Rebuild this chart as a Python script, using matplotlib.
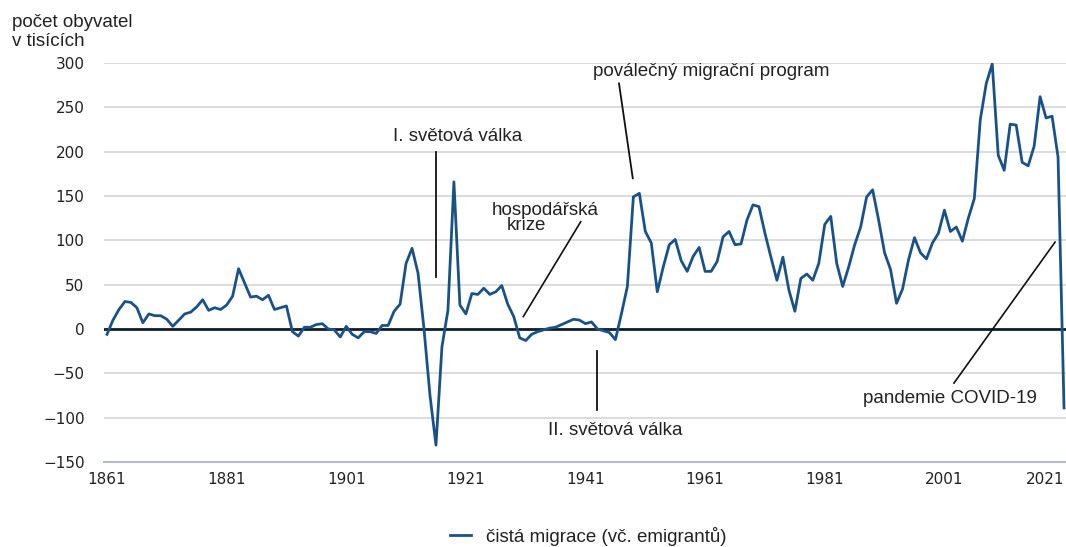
import numpy as np
import matplotlib
matplotlib.use('Agg')
import matplotlib.pyplot as plt

# net migration in thousands, one value per year from 1861
first_year = 1861
net_migration = [
    -6, 10, 22, 31, 30, 24, 7, 17, 15, 15,
    11, 3, 10, 17, 19, 25, 33, 21, 24, 22,
    27, 37, 68, 52, 36, 37, 33, 38, 22, 24,
    26, -3, -8, 2, 2, 5, 6, 0, -1, -9,
    3, -6, -10, -3, -3, -5, 4, 4, 20, 28,
    74, 91, 63, 0, -75, -131, -20, 21, 166, 27,
    17, 40, 39, 46, 39, 42, 49, 28, 14, -10,
    -13, -6, -3, -1, 1, 2, 5, 8, 11, 10,
    6, 8, 0, -2, -4, -12, 17, 48, 149, 153,
    110, 97, 42, 70, 95, 101, 77, 65, 82, 92,
    65, 65, 76, 104, 110, 95, 96, 123, 140, 138,
    108, 81, 55, 81, 44, 20, 57, 62, 55, 74,
    118, 127, 74, 48, 70, 95, 115, 149, 157, 123,
    86, 67, 29, 45, 78, 103, 86, 79, 97, 108,
    134, 110, 115, 99, 125, 147, 236, 277, 299, 196,
    179, 231, 230, 188, 184, 206, 262, 238, 240, 194,
    -89,
]
years = np.arange(first_year, first_year + len(net_migration))

x_ticks = [1861, 1881, 1901, 1921, 1941, 1961, 1981, 2001, 2021]
y_ticks = [-150, -100, -50, 0, 50, 100, 150, 200, 250, 300]

series_label = 'čistá migrace (vč. emigrantů)'
y_title = 'počet obyvatel\nv tisících'

line_color = '#1a5288'
text_font = ['Liberation Sans', 'DejaVu Sans']
fs = 13.5

fig = plt.figure(figsize=(10.66, 5.47), dpi=100)
ax = fig.add_axes([104 / 1066, 85 / 547, 962 / 1066, 399 / 547])

ax.plot(years, net_migration, color=line_color, lw=2, zorder=3,
        label=series_label)
ax.axhline(0, color='#0f1e2e', lw=2, zorder=2)

ax.set_xlim(1860.5, 2021.33)
ax.set_ylim(-150, 300)
ax.set_xticks(x_ticks)
ax.set_yticks(y_ticks)
ax.grid(axis='y', color='#d6d6d6', lw=1.2, zorder=0)
ax.set_axisbelow(True)
for side in ['top', 'right', 'left']:
    ax.spines[side].set_visible(False)
ax.spines['bottom'].set_color('#b3bccb')
ax.spines['bottom'].set_linewidth(1.5)
ax.tick_params(axis='both', length=0, labelsize=11, colors='#222222')
ax.tick_params(axis='x', pad=7)
ax.tick_params(axis='y', pad=14)
ax.get_xticklabels()[-1].set_ha('right')

fig.text(12 / 1066, 1 - 32 / 547, y_title, fontsize=fs, family=text_font,
         ha='left', va='center', linespacing=1.15, color='#222222')

# event annotations
ax.text(1919.6, 217, 'I. světová válka', fontsize=fs, family=text_font,
        ha='center', va='center', color='#222222')
ax.plot([1916, 1916], [200, 59], color='#111111', lw=1.3, clip_on=False)

ax.text(1925.3, 134, 'hospodářská', fontsize=fs, family=text_font,
        ha='left', va='center', color='#222222')
ax.text(1927.8, 117, 'krize', fontsize=fs, family=text_font,
        ha='left', va='center', color='#222222')
ax.plot([1940.2, 1930.6], [121, 14], color='#111111', lw=1.2)

ax.text(1946, -114, 'II. světová válka', fontsize=fs, family=text_font,
        ha='center', va='center', color='#222222')
ax.plot([1942.9, 1942.9], [-25, -91], color='#111111', lw=1.3)

ax.text(1962.1, 290, 'poválečný migrační program', fontsize=fs,
        family=text_font, ha='center', va='center', color='#222222')
ax.plot([1946.6, 1948.9], [277, 170], color='#111111', lw=1.3)

ax.text(2001.9, -78, 'pandemie COVID-19', fontsize=fs, family=text_font,
        ha='center', va='center', color='#222222')
ax.plot([2019.5, 2002.6], [98, -61], color='#111111', lw=1.2)

leg = fig.legend(loc='center', bbox_to_anchor=(588 / 1066, 1 - 536 / 547),
                 frameon=False, handlelength=1.1, handletextpad=0.8,
                 prop={'family': text_font, 'size': fs})
for t in leg.get_texts():
    t.set_color('#222222')

fig.savefig('out.png', dpi=100)
